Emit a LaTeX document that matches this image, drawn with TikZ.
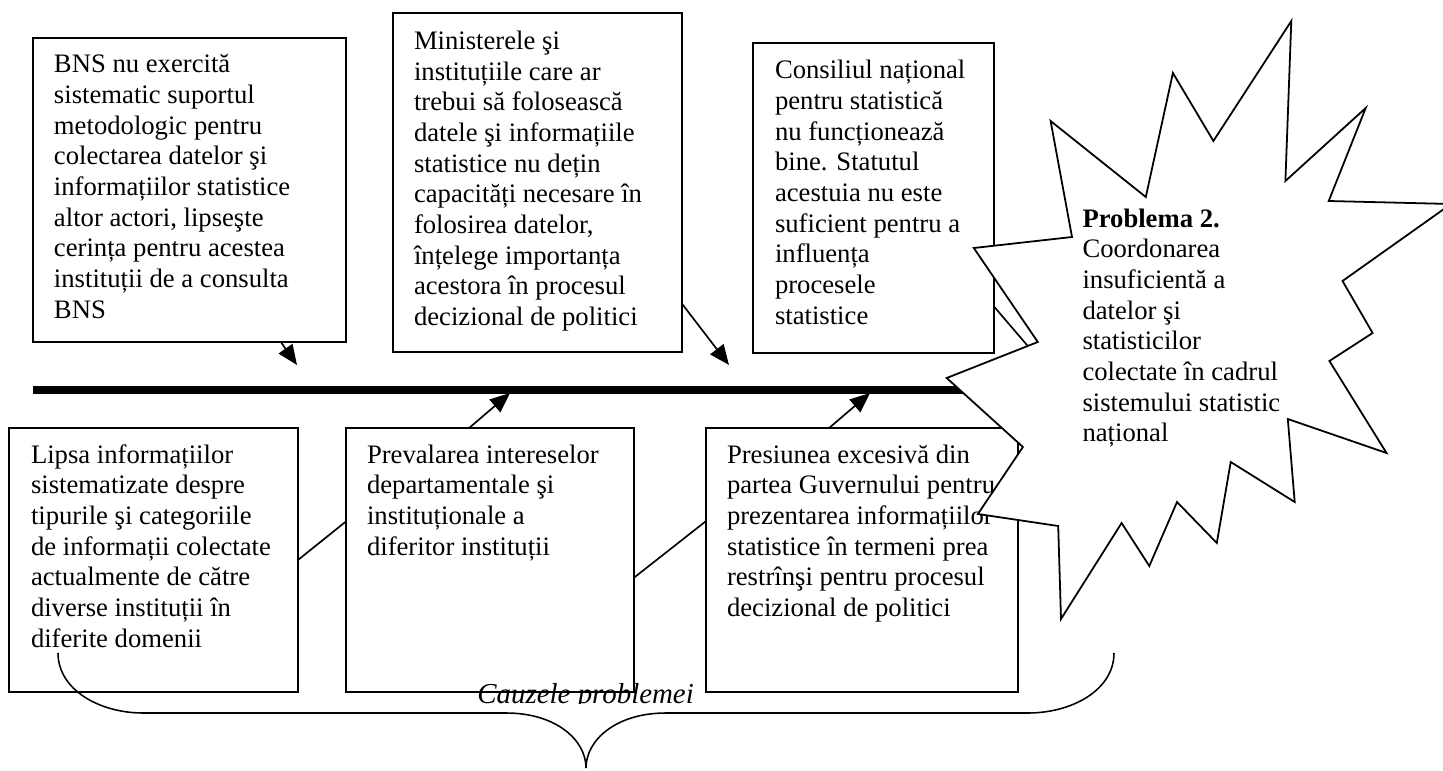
\documentclass[tikz,border=0pt]{standalone}
\usepackage{fontspec}
\setmainfont{Liberation Serif}
\usetikzlibrary{arrows.meta,calc}
\newdimen\pxu \pxu=0.45pt
\tikzset{
 boxnode/.style={draw, line width=0.9pt, rectangle, inner sep=0pt, outer sep=0pt, anchor=north west},
 txtnode/.style={inner sep=0pt, outer sep=0pt, anchor=base west, font=\fontsize{12pt}{13.8pt}\selectfont},
 conn/.style={line width=0.75pt},
 arr/.style={line width=0.75pt, -{Triangle[length=9pt,width=7.5pt]}},
 spine/.style={line width=3.6pt},
 starline/.style={line width=0.8pt, fill=white, line join=miter},
 braceline/.style={line width=0.7pt},
}
\newcommand\btext[1]{\parbox[t]{160pt}{\raggedright #1}}
\begin{document}
\begin{tikzpicture}[x=0.45pt,y=-0.45pt]
\useasboundingbox (0,0) rectangle (1443,771);
% boxes
\node[boxnode, minimum width=313\pxu, minimum height=304\pxu] (b1) at (33,38) {};
\node[boxnode, minimum width=289\pxu, minimum height=339\pxu] (b2) at (393,13) {};
\node[boxnode, minimum width=241\pxu, minimum height=310\pxu] (b3) at (753,43) {};
\node[boxnode, minimum width=289\pxu, minimum height=264\pxu] (b4) at (9,428) {};
\node[boxnode, minimum width=288\pxu, minimum height=264\pxu] (b5) at (346,428) {};
\node[boxnode, minimum width=312\pxu, minimum height=264\pxu] (b6) at (706,428) {};
% texts
\node[txtnode] (tx1) at (54,73) {\btext{BNS nu exercită\\sistematic suportul\\metodologic pentru\\colectarea datelor şi\\informațiilor statistice\\altor actori, lipseşte\\cerința pentru acestea\\instituții de a consulta\\BNS}};
\node[txtnode] (tx2) at (414,49.5) {\btext{Ministerele şi\\instituțiile care ar\\trebui să folosească\\datele şi informațiile\\statistice nu dețin\\capacități necesare în\\folosirea datelor,\\înțelege importanța\\acestora în procesul\\decizional de politici}};
\node[txtnode] (tx3) at (775,79) {\btext{Consiliul național\\pentru statistică\\nu funcționează\\bine. Statutul\\acestuia nu este\\suficient pentru a\\influența\\procesele\\statistice}};
\node[txtnode] (tx4) at (31,463) {\btext{Lipsa informațiilor\\sistematizate despre\\tipurile şi categoriile\\de informații colectate\\actualmente de către\\diverse instituții în\\diferite domenii}};
\node[txtnode] (tx5) at (367,463) {\btext{Prevalarea intereselor\\departamentale şi\\instituționale a\\diferitor instituții}};
\node[txtnode] (tx6) at (727,463) {\btext{Presiunea excesivă din\\partea Guvernului pentru\\prezentarea informațiilor\\statistice în termeni prea\\restrînşi pentru procesul\\decizional de politici}};
% spine and connectors
\coordinate (s0) at (33,390);
\coordinate (s1) at (1040,390);
\draw[spine] (s0) -- (s1);
\coordinate (t1) at (297,365);
\coordinate (t2) at (729,365);
\coordinate (t3) at (1050,372);
\coordinate (t5) at (510,393);
\coordinate (t6) at (870,393);
\draw[arr] (b1.-59.79) -- (t1);
\draw[arr] (b2.-40.97) -- (t2);
\draw[arr] (b3.-42.39) -- (t3);
\draw[arr] (b5.99.88) -- (t5);
\draw[arr] (b6.104.85) -- (t6);
\draw[conn] (b4.east) -- (b5.165.59);
\draw[conn] (b5.-7.13) -- (b6.166.66);
% star
\draw[starline] (973.8,248) -- (1072,237) -- (1050.6,121) -- (1145.8,197) -- (1172.9,73)
 -- (1213.4,141) -- (1291.3,21) -- (1285.4,181) -- (1365.7,108) -- (1328.7,201)
 -- (1451,204) -- (1342.5,281) -- (1372.6,333) -- (1329.4,361) -- (1386.5,453)
 -- (1287.8,419) -- (1294.7,502) -- (1230.7,462) -- (1216.8,543) -- (1177,502)
 -- (1149.3,566) -- (1121.6,523) -- (1061,619) -- (1058.2,526) -- (977.9,514)
 -- (1022.9,447) -- (946.7,378) -- (1037.8,342) -- cycle;
\node[txtnode] (prob) at (1082.5,227) {\btext{\textbf{Problema 2.}\\Coordonarea\\insuficientă a\\datelor şi\\statisticilor\\colectate în cadrul\\sistemului statistic\\național}};
% brace
\draw[braceline] (58,653) .. controls (58,690) and (100,713) .. (143,713) -- (506,713)
 .. controls (556,713) and (586,740) .. (586,768)
 .. controls (586,740) and (616,713) .. (666,713) -- (1028,713)
 .. controls (1072,713) and (1114,690) .. (1114,653);
\begin{scope}
\clip (400,600) rectangle (800,703.5);
\node[inner sep=0pt, anchor=base west, font=\fontsize{13pt}{15pt}\selectfont\itshape] (cauze) at (477,703) {Cauzele problemei};
\end{scope}
\end{tikzpicture}
\end{document}
